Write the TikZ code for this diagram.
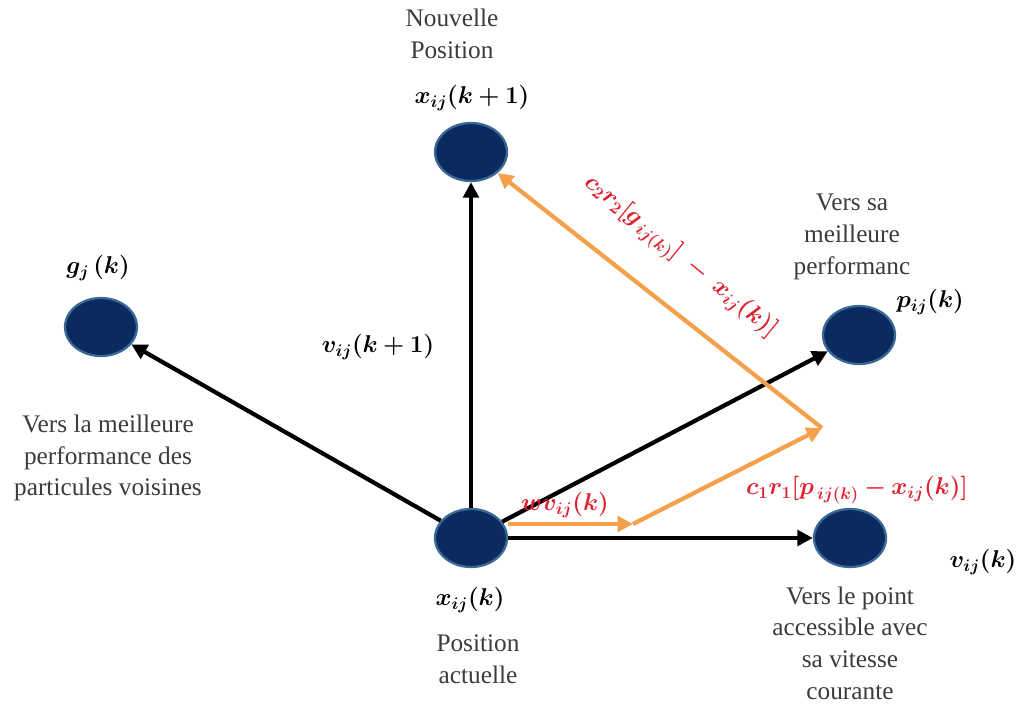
\documentclass[tikz,border=0pt]{standalone}
\usepackage{fontspec}
\setmainfont{Liberation Serif}
\usepackage{bm}
\usetikzlibrary{shapes.geometric,arrows.meta}
\definecolor{navy}{HTML}{0B2A5F}
\definecolor{rim}{HTML}{3A6A94}
\definecolor{org}{HTML}{F5A04B}
\definecolor{lbl}{HTML}{E0202E}
\definecolor{txt}{HTML}{3C3C3C}
\tikzset{
  particle/.style={ellipse,fill=navy,draw=rim,line width=1.6pt,minimum width=1.8cm,minimum height=1.45cm,inner sep=0pt},
  blk/.style={line width=3pt,black,-{Triangle[length=11pt,width=11pt]}},
  orng/.style={line width=3pt,org,-{Triangle[length=11pt,width=11pt]}},
  desc/.style={text=txt,align=center,font=\fontsize{18}{22.5}\selectfont},
  mlab/.style={text=black,font=\fontsize{18}{22}\selectfont},
  rlab/.style={text=lbl,font=\fontsize{18}{22}\selectfont},
}
\begin{document}
\begin{tikzpicture}[x=0.025cm,y=-0.025cm]
\useasboundingbox[fill=white] (0,0) rectangle (1021,704);

% particles
\node[particle] (cur) at (471,538) {};
\node[particle] (top) at (471,152) {};
\node[particle] (gj)  at (101,327) {};
\node[particle] (pij) at (859,335) {};
\node[particle] (vij) at (850,538) {};

% velocity components
\draw[blk] (cur) -- (gj);
\draw[blk] (cur) -- (top);
\draw[blk] (cur) -- (pij);
\draw[blk] (cur) -- (vij);

% construction of the new velocity
\coordinate (w) at (633,524);
\coordinate (c) at (822,428);
\draw[orng] (cur.east |- w) -- (w);
\draw[orng] (w) -- (c);
\draw[orng] (c) -- (top);

% texts
\node[desc] at (452,34) {Nouvelle\\Position};
\node[mlab] at (472,98) {$\bm{x_{ij}(k+1)}$};
\node[mlab] at (98,268) {$\bm{g_j\,(k)}$};
\node[desc] at (108,458) {Vers la meilleure\\performance des\\particules voisines};
\node[mlab] at (378,347) {$\bm{v_{ij}(k+1)}$};
\node[desc] at (852,237) {Vers sa\\meilleure\\performanc};
\node[mlab] at (930,302) {$\bm{p_{ij}(k)}$};
\node[rlab] at (565,505) {$\bm{wv_{ij}(k)}$};
\node[rlab] at (857,490) {$\bm{c_1r_1[p_{\,ij(k)}-x_{ij}(k)]}$};
\node[rlab,rotate=-39.3] at (680,257) {$\bm{c_2r_2[g_{\,ij(k)}]\;-\;x_{ij}(k)]}$};
\node[mlab] at (470,600) {$\bm{x_{ij}(k)}$};
\node[desc] at (478,659) {Position\\actuelle};
\node[mlab] at (983,562) {$\bm{v_{ij}(k)}$};
\node[desc] at (850,643) {Vers le point\\accessible avec\\sa vitesse\\courante};
\end{tikzpicture}
\end{document}
